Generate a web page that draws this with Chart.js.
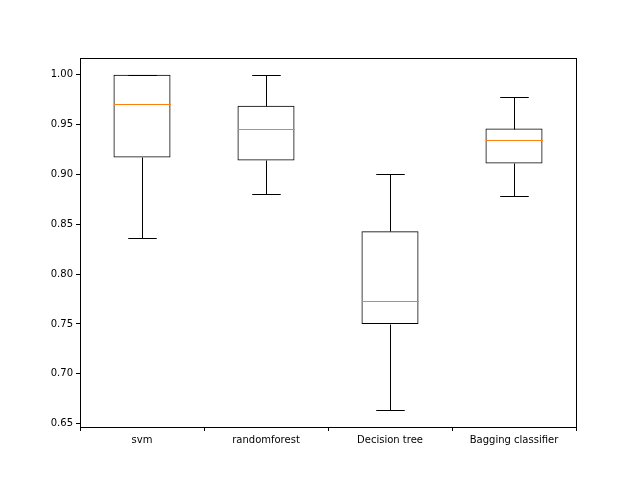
<!DOCTYPE html>
<html>
<head>
<meta charset="utf-8">
<script src="https://cdn.jsdelivr.net/npm/chart.js@4"></script>
<style>
  html, body { margin: 0; padding: 0; background: #fff; }
  #wrap { width: 640px; height: 480px; }
</style>
</head>
<body>
<div id="wrap"><canvas id="c" width="640" height="480"></canvas></div>
<script>
const labels = ['svm', 'randomforest', 'Decision tree', 'Bagging classifier'];
const lowWhisker = [0.836, 0.880, 0.664, 0.878];
const q1 = [0.917, 0.914, 0.750, 0.911];
const median = [0.971, 0.946, 0.773, 0.935];
const q3 = [1.000, 0.969, 0.843, 0.946];
const highWhisker = [1.000, 1.000, 0.900, 0.978];
const yTicks = [0.65, 0.70, 0.75, 0.80, 0.85, 0.90, 0.95, 1.00];

// whiskers, caps, medians and the frame
const boxExtras = {
  id: 'boxExtras',
  afterDatasetsDraw(chart) {
    const { ctx, chartArea, scales } = chart;
    const x = scales.x, y = scales.y;
    const meta = chart.getDatasetMeta(0);
    ctx.save();
    ctx.lineWidth = 1;
    labels.forEach((_, i) => {
      const bar = meta.data[i];
      const cx = Math.round(bar.x) + 0.5;
      const half = bar.width / 2;
      const cap = half / 2;
      const line = (x1, y1, x2, y2, color) => {
        ctx.strokeStyle = color;
        ctx.beginPath(); ctx.moveTo(x1, y1); ctx.lineTo(x2, y2); ctx.stroke();
      };
      const yp = v => Math.round(y.getPixelForValue(v)) + 0.5;
      line(cx, yp(q1[i]), cx, yp(lowWhisker[i]), '#000');
      line(cx, yp(q3[i]), cx, yp(highWhisker[i]), '#000');
      line(cx - cap, yp(lowWhisker[i]), cx + cap, yp(lowWhisker[i]), '#000');
      line(cx - cap, yp(highWhisker[i]), cx + cap, yp(highWhisker[i]), '#000');
      line(cx - half, yp(median[i]), cx + half, yp(median[i]), '#ff7f0e');
    });
    ctx.strokeStyle = '#000';
    ctx.strokeRect(Math.round(chartArea.left) + 0.5, Math.round(chartArea.top) + 0.5,
      Math.round(chartArea.width), Math.round(chartArea.height));
    ctx.restore();
  }
};

new Chart(document.getElementById('c'), {
  type: 'bar',
  data: {
    labels: labels,
    datasets: [{
      data: labels.map((_, i) => [q1[i], q3[i]]),
      backgroundColor: 'rgba(0,0,0,0)',
      borderColor: '#000',
      borderWidth: 1,
      borderSkipped: false,
      barPercentage: 0.46,
      categoryPercentage: 1
    }]
  },
  options: {
    responsive: false,
    animation: false,
    layout: { padding: { top: 58, right: 64, left: 0, bottom: 0 } },
    plugins: { legend: { display: false }, tooltip: { enabled: false } },
    scales: {
      x: {
        grid: { display: true, drawOnChartArea: false, drawTicks: true, tickLength: 4, color: '#000' },
        border: { display: false },
        ticks: { color: '#000', font: { family: 'DejaVu Sans', size: 10 }, padding: 3 },
        afterFit(s) { s.height = 53; }
      },
      y: {
        min: 0.6466, max: 1.0168,
        afterBuildTicks(s) { s.ticks = yTicks.map(v => ({ value: v })); },
        grid: { display: true, drawOnChartArea: false, drawTicks: true, tickLength: 4, color: '#000' },
        border: { display: false },
        ticks: { color: '#000', font: { family: 'DejaVu Sans', size: 10 }, padding: 3,
                 callback: v => Number(v).toFixed(2) },
        afterFit(s) { s.width = 80; }
      }
    }
  },
  plugins: [boxExtras]
});
</script>
</body>
</html>
